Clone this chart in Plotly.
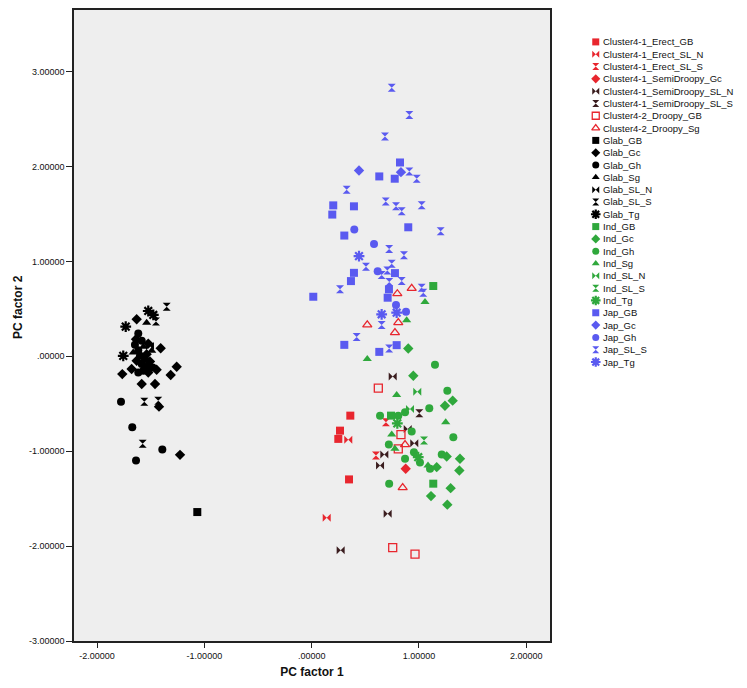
import plotly.graph_objects as go

# %% data: PC scores, one pair of lists per group
erect_gb_x = [0.360, 0.264, 0.248, 0.348]
erect_gb_y = [-0.625, -0.783, -0.870, -1.297]
erect_sln_x = [0.341, 0.140]
erect_sln_y = [-0.880, -1.700]
erect_sls_x = [0.692, 0.599]
erect_sls_y = [-0.695, -1.045]
semi_gc_x = [0.876]
semi_gc_y = [-1.185]
semi_sln_x = [0.755, 0.895, 0.956, 0.677, 0.637, 0.708, 0.270]
semi_sln_y = [-0.212, -0.765, -0.916, -1.035, -1.150, -1.658, -2.043]
semi_sls_x = [1.003]
semi_sls_y = [-0.601]
droopy_gb_x = [0.621, 0.832, 0.807, 0.755, 0.963]
droopy_gb_y = [-0.334, -0.825, -0.975, -2.015, -2.085]
droopy_sg_x = [0.798, 0.932, 0.807, 0.518, 0.776, 0.870, 0.848]
droopy_sg_y = [0.660, 0.716, 0.355, 0.331, 0.250, -0.930, -1.384]

glab_gb_x = [-1.066]
glab_gb_y = [-1.641]
glab_gc_x = [-1.631, -1.407, -1.258, -1.314, -1.765, -1.678, -1.584, -1.460, -1.423,
             -1.227, -1.637, -1.523, -1.538, -1.631, -1.507, -1.538, -1.523, -1.445]
glab_gc_y = [0.391, 0.086, -0.110, -0.197, -0.187, -0.134, -0.292, -0.292, -0.530,
             -1.038, 0.181, 0.134, 0.023, -0.047, -0.055, -0.110, -0.170, -0.142]
glab_gh_x = [-1.616, -1.584, -1.647, -1.616, -1.600, -1.554, -1.584, -1.569, -1.482,
             -1.616, -1.777, -1.672, -1.392, -1.637]
glab_gh_y = [0.240, 0.163, 0.121, 0.065, 0.005, -0.029, -0.082, -0.152, -0.118,
             -0.170, -0.478, -0.748, -0.982, -1.098]
glab_sg_x = [-1.538, -1.569, -1.663, -1.491]
glab_sg_y = [0.355, 0.100, 0.040, 0.058]
glab_sln_x = [-1.507]
glab_sln_y = [0.110]
glab_sls_x = [-1.351, -1.451, -1.560, -1.430, -1.575]
glab_sls_y = [0.523, 0.366, -0.478, -0.467, -0.922]
glab_tg_x = [-1.523, -1.476, -1.733, -1.756]
glab_tg_y = [0.478, 0.436, 0.313, 0.005]

ind_gb_x = [1.133, 0.739, 1.133]
ind_gb_y = [0.741, -0.625, -1.342]
ind_gc_x = [0.900, 0.947, 1.314, 1.242, 1.382, 1.376, 1.295, 1.112, 1.264, 1.165, 1.258]
ind_gc_y = [0.082, -0.205, -0.467, -0.520, -1.080, -1.203, -1.389, -1.473, -1.563, -1.168, -1.056]
ind_gh_x = [1.149, 1.264, 1.096, 0.870, 0.807, 0.637, 0.932, 1.320, 0.719, 0.953,
            0.870, 1.212, 1.103, 0.722, 1.009]
ind_gh_y = [-0.089, -0.362, -0.548, -0.590, -0.625, -0.625, -0.793, -0.853, -0.930, -1.010,
            -1.080, -1.035, -1.185, -1.342, -1.119]
ind_sg_x = [1.056, 0.885, 0.518, 0.792, 1.249, 0.746, 0.776, 1.084]
ind_sg_y = [0.572, 0.380, -0.029, -0.408, -0.695, -0.825, -0.975, -1.150]
ind_sln_x = [0.984, 0.916]
ind_sln_y = [-0.373, -0.555]
ind_sls_x = [1.047]
ind_sls_y = [-0.888]
ind_tg_x = [0.798, 0.993]
ind_tg_y = [-0.706, -1.063]

jap_gb_x = [0.823, 0.630, 0.774, 0.201, 0.394, 0.192, 0.900, 0.304, 0.776, 0.394,
            0.366, 0.015, 0.720, 0.708, 0.304, 0.630, 0.792]
jap_gb_y = [2.043, 1.896, 1.872, 1.591, 1.581, 1.494, 1.360, 1.273, 0.877, 0.880,
            0.793, 0.628, 0.706, 0.618, 0.121, 0.047, 0.118]
jap_gc_x = [0.441, 0.832]
jap_gc_y = [1.959, 1.941]
jap_gh_x = [0.397, 0.581, 0.615, 0.786, 0.879]
jap_gh_y = [1.336, 1.185, 0.898, 0.541, 0.471]
jap_sls_x = [0.746, 0.910, 0.683, 0.910, 0.979, 0.326, 0.690, 0.786, 0.839, 1.025,
             1.202, 0.722, 0.860, 0.506, 0.652, 0.705, 0.746, 0.723, 0.839, 0.264,
             1.025, 1.040, 0.652, 0.419, 0.722]
jap_sls_y = [2.831, 2.544, 2.316, 1.949, 1.872, 1.756, 1.633, 1.581, 1.528, 1.591,
             1.318, 1.132, 1.066, 0.943, 0.856, 0.905, 0.975, 0.783, 0.793, 0.706,
             0.723, 0.670, 0.331, 0.205, 0.082]
jap_tg_x = [0.441, 0.652, 0.792]
jap_tg_y = [1.056, 0.443, 0.460]

x_ticks = [-2, -1, 0, 1, 2]
x_tick_labels = ["-2.00000", "-1.00000", ".00000", "1.00000", "2.00000"]
y_ticks = [-3, -2, -1, 0, 1, 2, 3]
y_tick_labels = ["-3.00000", "-2.00000", "-1.00000", ".00000", "1.00000", "2.00000", "3.00000"]

# %% styles
RED = "#e8262e"
DARK = "#3a1c1e"
BLACK = "#000000"
GREEN = "#2fa83c"
BLUE = "#5a5af0"

groups = [
    ("Cluster4-1_Erect_GB", erect_gb_x, erect_gb_y, "square", RED),
    ("Cluster4-1_Erect_SL_N", erect_sln_x, erect_sln_y, "bowtie", RED),
    ("Cluster4-1_Erect_SL_S", erect_sls_x, erect_sls_y, "hourglass", RED),
    ("Cluster4-1_SemiDroopy_Gc", semi_gc_x, semi_gc_y, "diamond", RED),
    ("Cluster4-1_SemiDroopy_SL_N", semi_sln_x, semi_sln_y, "bowtie", DARK),
    ("Cluster4-1_SemiDroopy_SL_S", semi_sls_x, semi_sls_y, "hourglass", DARK),
    ("Cluster4-2_Droopy_GB", droopy_gb_x, droopy_gb_y, "square-open", RED),
    ("Cluster4-2_Droopy_Sg", droopy_sg_x, droopy_sg_y, "triangle-up-open", RED),
    ("Glab_GB", glab_gb_x, glab_gb_y, "square", BLACK),
    ("Glab_Gc", glab_gc_x, glab_gc_y, "diamond", BLACK),
    ("Glab_Gh", glab_gh_x, glab_gh_y, "circle", BLACK),
    ("Glab_Sg", glab_sg_x, glab_sg_y, "triangle-up", BLACK),
    ("Glab_SL_N", glab_sln_x, glab_sln_y, "bowtie", BLACK),
    ("Glab_SL_S", glab_sls_x, glab_sls_y, "hourglass", BLACK),
    ("Glab_Tg", glab_tg_x, glab_tg_y, "asterisk", BLACK),
    ("Ind_GB", ind_gb_x, ind_gb_y, "square", GREEN),
    ("Ind_Gc", ind_gc_x, ind_gc_y, "diamond", GREEN),
    ("Ind_Gh", ind_gh_x, ind_gh_y, "circle", GREEN),
    ("Ind_Sg", ind_sg_x, ind_sg_y, "triangle-up", GREEN),
    ("Ind_SL_N", ind_sln_x, ind_sln_y, "bowtie", GREEN),
    ("Ind_SL_S", ind_sls_x, ind_sls_y, "hourglass", GREEN),
    ("Ind_Tg", ind_tg_x, ind_tg_y, "asterisk", GREEN),
    ("Jap_GB", jap_gb_x, jap_gb_y, "square", BLUE),
    ("Jap_Gc", jap_gc_x, jap_gc_y, "diamond", BLUE),
    ("Jap_Gh", jap_gh_x, jap_gh_y, "circle", BLUE),
    ("Jap_SL_S", jap_sls_x, jap_sls_y, "hourglass", BLUE),
    ("Jap_Tg", jap_tg_x, jap_tg_y, "asterisk", BLUE),
]

FONT = "Liberation Sans, Arial, sans-serif"


def marker_style(symbol, color, size):
    if symbol == "asterisk":
        return dict(symbol=symbol, size=size + 1, color=color, line=dict(color=color, width=2.2))
    if symbol.endswith("-open"):
        return dict(symbol=symbol, size=size, color=color, line=dict(color=color, width=1.3))
    return dict(symbol=symbol, size=size, color=color, line=dict(width=0))


fig = go.Figure()

# scatter points
for name, xs, ys, symbol, color in groups:
    fig.add_trace(go.Scatter(
        x=xs, y=ys, mode="markers", name=name, showlegend=False,
        marker=marker_style(symbol, color, 8),
        xaxis="x", yaxis="y",
    ))

# hand-drawn legend on a second, hidden axis pair (one row per group)
for i, (name, xs, ys, symbol, color) in enumerate(groups):
    fig.add_trace(go.Scatter(
        x=[0.105], y=[i], mode="markers", showlegend=False, hoverinfo="skip",
        marker=marker_style(symbol, color, 7),
        xaxis="x2", yaxis="y2",
    ))
    fig.add_annotation(
        x=0.135, y=i, xref="x2", yref="y2", text=name, showarrow=False,
        xanchor="left", yanchor="middle", font=dict(family=FONT, size=9.5, color="#111111"),
    )

fig.add_annotation(
    x=-0.084, y=0.53, xref="paper", yref="paper", text="PC factor 2", textangle=-90,
    showarrow=False, xanchor="center", yanchor="middle",
    font=dict(family=FONT, size=12, color="#111111", weight="bold"),
)

# grey plot area only behind the main axes
fig.add_shape(
    type="rect", xref="x domain", yref="y domain", x0=0, x1=1, y0=0, y1=1,
    fillcolor="#eeeeee", line=dict(width=0), layer="below",
)

# the page adds an 8px body margin, so the figure is shrunk by that much
fig.update_layout(
    width=739, height=680,
    margin=dict(l=66, r=0, t=0, b=47),
    paper_bgcolor="white",
    plot_bgcolor="white",
    font=dict(family=FONT, size=9, color="#111111"),
    xaxis=dict(
        domain=[0, 0.7073], range=[-2.215, 2.221],
        tickvals=x_ticks, ticktext=x_tick_labels,
        ticks="outside", ticklen=5, tickwidth=1, tickcolor="#222222",
        showgrid=False, zeroline=False,
        showline=True, linecolor="#222222", linewidth=1.5, mirror=True,
        title=dict(text="PC factor 1", standoff=8,
                   font=dict(family=FONT, size=12, color="#111111", weight="bold")),
        tickfont=dict(size=9),
    ),
    yaxis=dict(
        domain=[0, 1], range=[-3, 3.65],
        tickvals=y_ticks, ticktext=y_tick_labels,
        ticks="outside", ticklen=6, tickwidth=1, tickcolor="#222222",
        showgrid=False, zeroline=False,
        showline=True, linecolor="#222222", linewidth=1.5, mirror=True,
        tickfont=dict(size=9),
    ),
    xaxis2=dict(domain=[0.7489, 1], range=[0, 1], visible=False, fixedrange=True,
                anchor="y2"),
    yaxis2=dict(domain=[0, 1], range=[48.66, -2.591], visible=False, fixedrange=True,
                anchor="x2"),
)

fig.write_html("out.html")
